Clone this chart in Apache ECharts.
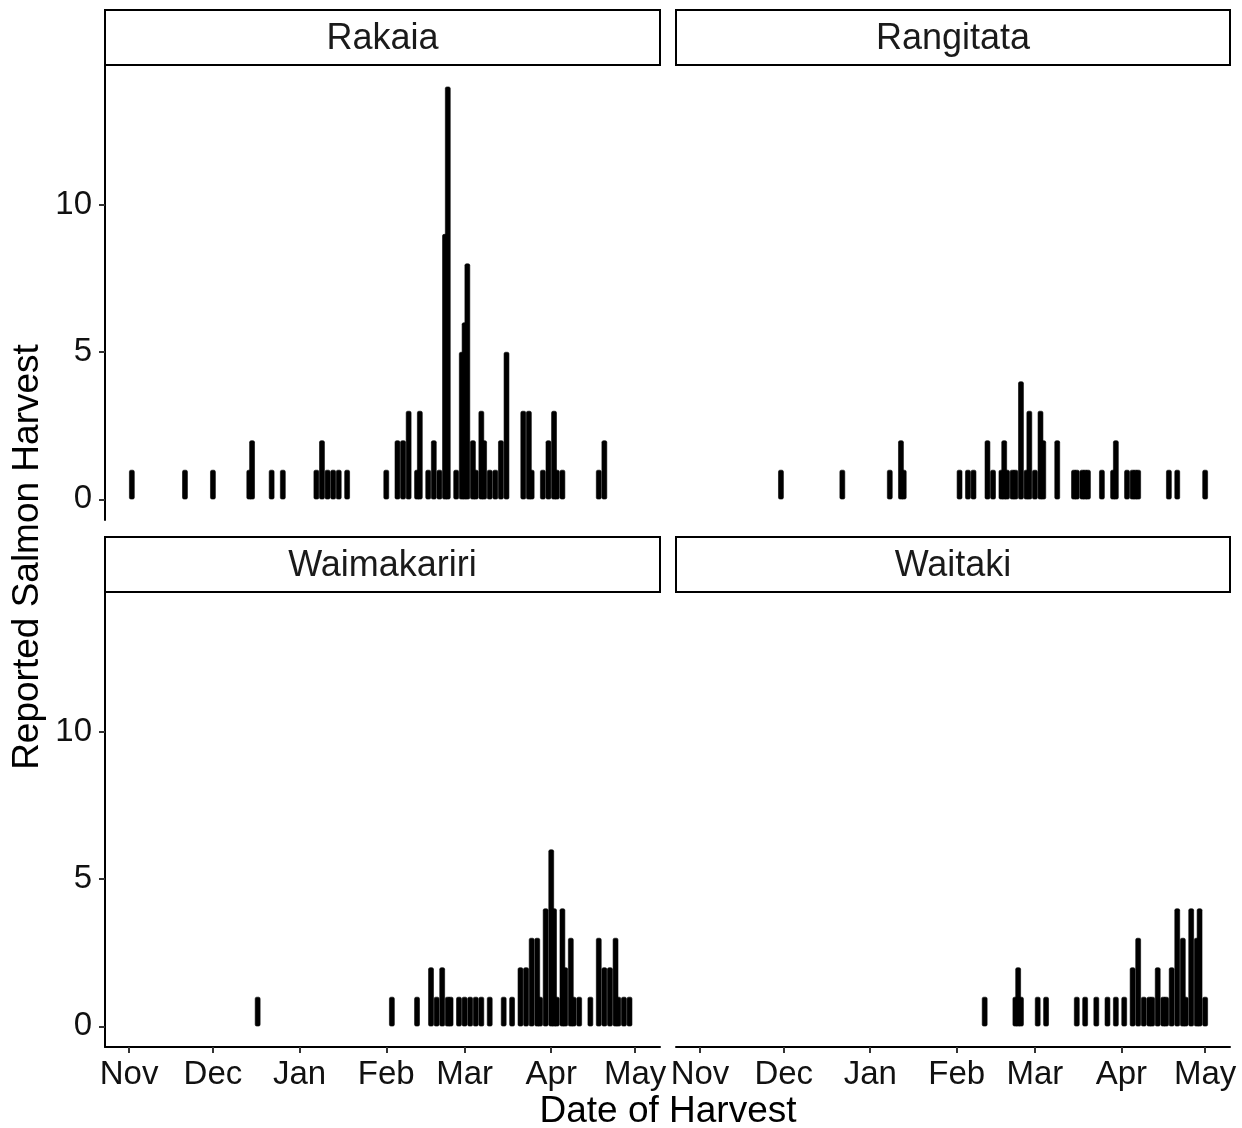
<!DOCTYPE html>
<html>
<head>
<meta charset="utf-8">
<script src="https://cdn.jsdelivr.net/npm/echarts@6/dist/echarts.min.js"></script>
<style>
  html, body { margin: 0; padding: 0; background: #fff; }
  #chart { width: 1242px; height: 1128px; }
</style>
</head>
<body>
<div id="chart"></div>
<script>
// days counted from 1 Nov (0 = Nov 1), value = reported fish that day
var rakaia = [
  [1, 1], [20, 1], [30, 1], [43, 1], [44, 2], [51, 1], [55, 1],
  [67, 1], [69, 2], [71, 1], [73, 1], [75, 1], [78, 1],
  [92, 1], [96, 2], [98, 2], [100, 3], [103, 1], [104, 3], [107, 1], [109, 2],
  [111, 1], [113, 9], [114, 14], [117, 1], [119, 5], [120, 6], [121, 8],
  [123, 2], [124, 1], [126, 3], [127, 2], [129, 1], [131, 1], [133, 2], [135, 5],
  [141, 3], [143, 3], [144, 1], [148, 1], [150, 2], [152, 3], [153, 1], [155, 1],
  [168, 1], [170, 2]
];
var rangitata = [
  [29, 1], [51, 1], [68, 1], [72, 2], [73, 1],
  [93, 1], [96, 1], [98, 1], [103, 2], [105, 1], [108, 1], [109, 2], [110, 1],
  [112, 1], [113, 1], [115, 4], [117, 1], [118, 3], [120, 1], [122, 3], [123, 2],
  [128, 2], [134, 1], [135, 1], [137, 1], [138, 1], [139, 1], [144, 1],
  [148, 1], [149, 2], [153, 1], [155, 1], [156, 1], [157, 1],
  [168, 1], [171, 1], [181, 1]
];
var waimakariri = [
  [46, 1], [94, 1], [103, 1], [108, 2], [110, 1], [112, 2], [114, 1], [115, 1],
  [118, 1], [120, 1], [122, 1], [124, 1], [126, 1], [129, 1], [134, 1], [137, 1],
  [140, 2], [142, 2], [144, 3], [146, 3], [147, 1], [149, 4], [151, 6], [152, 4],
  [153, 1], [155, 4], [156, 2], [158, 3], [159, 1], [161, 1], [165, 1],
  [168, 3], [170, 2], [172, 2], [174, 3], [175, 1], [177, 1], [179, 1]
];
var waitaki = [
  [102, 1], [113, 1], [114, 2], [115, 1], [121, 1], [124, 1],
  [135, 1], [138, 1], [142, 1], [146, 1], [149, 1], [152, 1],
  [155, 2], [157, 3], [159, 1], [161, 1], [162, 1], [164, 2], [166, 1], [167, 1],
  [169, 2], [171, 4], [173, 3], [174, 1], [176, 4], [178, 3], [179, 4], [181, 1]
];

var rivers = ['Rakaia', 'Rangitata', 'Waimakariri', 'Waitaki'];
var riverData = [rakaia, rangitata, waimakariri, waitaki];
var monthDays = [0, 30, 61, 92, 120, 151, 181];
var monthNames = ['Nov', 'Dec', 'Jan', 'Feb', 'Mar', 'Apr', 'May'];
var yTicks = [0, 5, 10];

var chart = echarts.init(document.getElementById('chart'), null, { renderer: 'canvas' });

var fontFamily = 'Liberation Sans, Arial, sans-serif';
var panels = [
  { left: 105, top: 66, width: 555, height: 454 },
  { left: 676, top: 66, width: 554, height: 454 },
  { left: 105, top: 593, width: 555, height: 454 },
  { left: 676, top: 593, width: 554, height: 454 }
];
var stripH = 55;

var grids = [], xAxes = [], yAxes = [], series = [], graphics = [];

panels.forEach(function (p, i) {
  var bottomRow = i >= 2;
  var leftCol = i % 2 === 0;
  grids.push({ left: p.left, top: p.top, width: p.width, height: p.height, containLabel: false });

  xAxes.push({
    type: 'value',
    gridIndex: i,
    min: -8.6,
    max: 189.9,
    show: bottomRow,
    axisLine: { show: true, onZero: false, lineStyle: { color: '#000', width: 2 } },
    axisTick: { show: true, length: 6, customValues: monthDays, lineStyle: { color: '#333', width: 2 } },
    axisLabel: {
      customValues: monthDays,
      color: '#111',
      fontSize: 33,
      fontFamily: fontFamily,
      margin: 11,
      formatter: function (v) {
        var k = monthDays.indexOf(Math.round(v));
        return k >= 0 ? monthNames[k] : '';
      }
    },
    splitLine: { show: false }
  });

  yAxes.push({
    type: 'value',
    gridIndex: i,
    min: -0.7,
    max: 14.7,
    show: leftCol,
    axisLine: { show: true, onZero: false, lineStyle: { color: '#000', width: 2 } },
    axisTick: { show: true, length: 6, customValues: yTicks, lineStyle: { color: '#333', width: 2 } },
    axisLabel: {
      customValues: yTicks,
      color: '#111',
      fontSize: 33,
      fontFamily: fontFamily,
      margin: 13
    },
    splitLine: { show: false }
  });

  series.push({
    name: rivers[i],
    type: 'bar',
    xAxisIndex: i,
    yAxisIndex: i,
    barWidth: 5.5,
    itemStyle: { color: '#000', borderColor: '#000', borderWidth: 0.6, borderRadius: 1.5 },
    data: riverData[i],
    animation: false
  });

  // facet strip
  graphics.push({
    type: 'rect',
    shape: { x: p.left, y: p.top - stripH - 1, width: p.width, height: stripH },
    style: { fill: '#fff', stroke: '#000', lineWidth: 2 }
  });
  graphics.push({
    type: 'text',
    x: p.left + p.width / 2,
    y: p.top - stripH / 2 + 1,
    style: {
      text: rivers[i],
      fill: '#1a1a1a',
      font: '36px ' + fontFamily,
      textAlign: 'center',
      textVerticalAlign: 'middle'
    }
  });
});

graphics.push({
  type: 'text',
  x: 28,
  y: 557,
  rotation: Math.PI / 2,
  style: {
    text: 'Reported Salmon Harvest',
    fill: '#000',
    font: '37px ' + fontFamily,
    textAlign: 'center',
    textVerticalAlign: 'middle'
  }
});
graphics.push({
  type: 'text',
  x: 668,
  y: 1112,
  style: {
    text: 'Date of Harvest',
    fill: '#000',
    font: '37px ' + fontFamily,
    textAlign: 'center',
    textVerticalAlign: 'middle'
  }
});

var option = {
  backgroundColor: '#fff',
  animation: false,
  grid: grids,
  xAxis: xAxes,
  yAxis: yAxes,
  series: series,
  graphic: graphics
};

chart.setOption(option);
window.addEventListener('resize', chart.resize);
</script>
</body>
</html>
